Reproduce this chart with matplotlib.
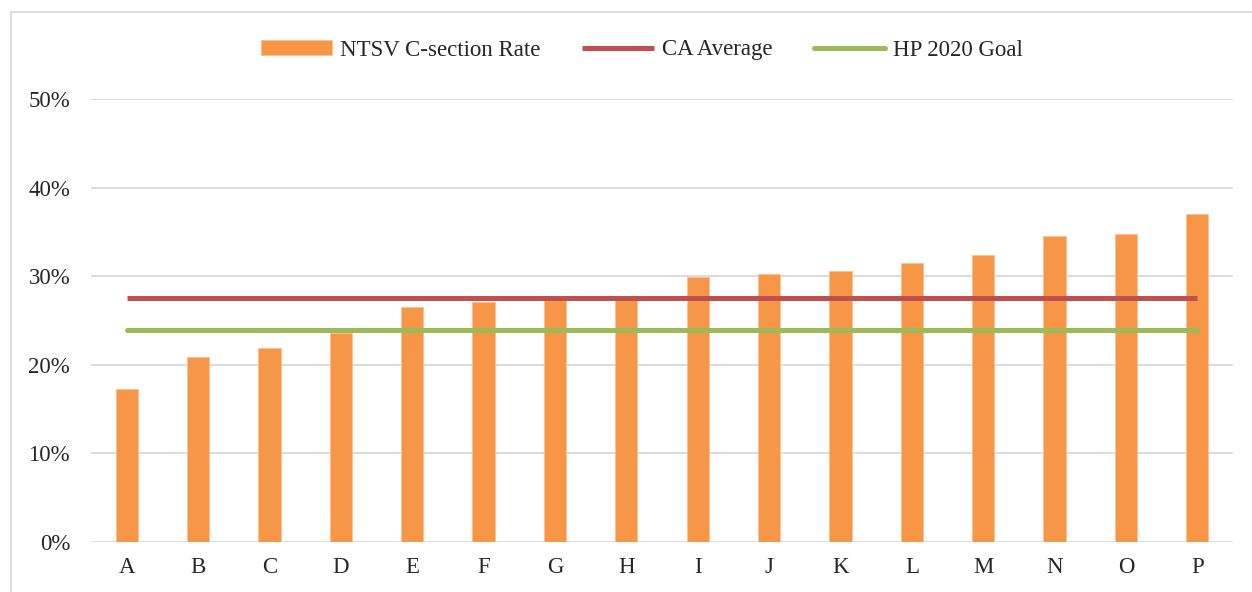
import numpy as np
import matplotlib.pyplot as plt
from matplotlib.patches import Rectangle

# datos del grafico
hospitales = ['A', 'B', 'C', 'D', 'E', 'F', 'G', 'H',
              'I', 'J', 'K', 'L', 'M', 'N', 'O', 'P']
tasa_ntsv = [17.3, 20.9, 21.9, 23.6, 26.5, 27.1, 27.6, 27.7,
             29.9, 30.2, 30.65, 31.5, 32.35, 34.55, 34.8, 37.0]
ca_promedio = 27.5
meta_hp2020 = 23.9

plt.rcParams['font.family'] = ['Liberation Serif', 'DejaVu Serif']

fig = plt.figure(figsize=(12.52, 5.92), dpi=100)
ax = fig.add_axes([91/1252, 1-541.7/592, (1233-91)/1252, (541.7-99.3)/592])

x = np.arange(len(hospitales))
barras = ax.bar(x, tasa_ntsv, width=0.31, color='#F79646', edgecolor='#FAC090',
                linewidth=0.6, label='NTSV C-section Rate', zorder=2)
l1, = ax.plot(x, [ca_promedio]*len(x), color='#C0504D', lw=3.6,
              solid_capstyle='butt', label='CA Average', zorder=3)
l2, = ax.plot(x, [meta_hp2020]*len(x), color='#9BBB59', lw=3.6,
              solid_capstyle='round', label='HP 2020 Goal', zorder=3)

ax.set_xlim(-0.5, len(x)-0.5)
ax.set_ylim(0, 50)
ax.set_yticks(np.arange(0, 51, 10))
ax.set_yticklabels(['%d%%' % v for v in range(0, 51, 10)])
ax.set_xticks(x)
ax.set_xticklabels(hospitales)
ax.tick_params(length=0, labelsize=16.5, colors='#262626')
ax.tick_params(axis='y', pad=15)
ax.tick_params(axis='x', pad=11)
ax.grid(axis='y', color='#D9D9D9', lw=1.3, zorder=0)
ax.set_axisbelow(True)
for s in ax.spines.values():
    s.set_visible(False)

fig.legend([barras, l1, l2], ['NTSV C-section Rate', 'CA Average', 'HP 2020 Goal'],
           loc='center', bbox_to_anchor=(642/1252, 1-50/592), ncol=3,
           frameon=False, fontsize=16.5, handlelength=3.1, handleheight=0.6,
           columnspacing=1.85, handletextpad=0.35, labelcolor='#262626')

# marco del grafico
fig.patches.append(Rectangle((11/1252, -0.1), 1.2, 1-12/592+0.1,
                             transform=fig.transFigure, fill=False,
                             edgecolor='#D9D9D9', lw=1.3))

fig.savefig('out.png', dpi=100)
